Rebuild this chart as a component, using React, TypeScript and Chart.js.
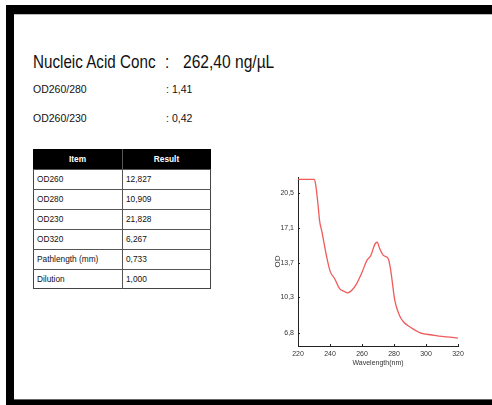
import React, { useEffect, useRef } from "react";
import { Chart, registerables } from "chart.js";

Chart.register(...registerables);

// ---- data ----
const wavelengths = [220, 225, 230, 231, 232.5, 233.5, 235, 237.5, 240, 243, 246, 249, 251, 253.5, 256.5, 260, 263, 265.5, 268, 269.5, 271, 273.5, 276.5, 278, 280.5, 283.5, 286, 290, 296, 305, 313, 320];
const odValues = [21.87, 21.87, 21.87, 21.4, 19.4, 17.8, 16.7, 14.6, 12.9, 12.1, 11.15, 10.87, 10.74, 10.97, 11.6, 12.75, 13.9, 14.4, 15.5, 15.7, 15.1, 14.4, 14.06, 12.9, 10.0, 8.5, 7.88, 7.4, 6.85, 6.58, 6.42, 6.31];
const xTickValues = [220, 240, 260, 280, 300, 320];
const yTickValues = [6.8, 10.3, 13.7, 17.1, 20.5];
const xAxisTitle = "Wavelength(nm)";
const yAxisTitle = "OD";

const concLabel = "Nucleic Acid Conc";
const concValue = "262,40 ng/µL";
const ratioLabels = ["OD260/280", "OD260/230"];
const ratioValues = ["1,41", "0,42"];

const tableHeaders = ["Item", "Result"];
const tableItems = ["OD260", "OD280", "OD230", "OD320", "Pathlength (mm)", "Dilution"];
const tableResults = ["12,827", "10,909", "21,828", "6,267", "0,733", "1,000"];

const FONT = "'Liberation Sans', Arial, sans-serif";

const innerTicks = {
  id: "innerTicks",
  afterDraw(chart: any) {
    const { ctx, chartArea, scales } = chart;
    ctx.save();
    ctx.strokeStyle = "#222";
    ctx.lineWidth = 1;
    scales.x.ticks.forEach((t: any) => {
      const px = Math.round(scales.x.getPixelForValue(t.value)) + 0.5;
      ctx.beginPath();
      ctx.moveTo(px, chartArea.bottom);
      ctx.lineTo(px, chartArea.bottom - 2);
      ctx.stroke();
    });
    scales.y.ticks.forEach((t: any) => {
      const py = Math.round(scales.y.getPixelForValue(t.value)) + 0.5;
      ctx.beginPath();
      ctx.moveTo(chartArea.left, py);
      ctx.lineTo(chartArea.left + 2, py);
      ctx.stroke();
    });
    ctx.restore();
  },
};

function SpectrumChart() {
  const ref = useRef<HTMLCanvasElement | null>(null);
  useEffect(() => {
    if (!ref.current) return;
    const chart = new Chart(ref.current, {
      type: "line",
      data: {
        datasets: [
          {
            data: wavelengths.map((w, i) => ({ x: w, y: odValues[i] })),
            borderColor: "rgba(238,82,82,0.95)",
            borderWidth: 1.3,
            pointRadius: 0,
            cubicInterpolationMode: "monotone",
            fill: false,
          },
        ],
      },
      options: {
        animation: false,
        responsive: false,
        maintainAspectRatio: false,
        layout: { padding: { left: 12, right: 22, top: 17, bottom: 0 } },
        plugins: { legend: { display: false }, tooltip: { enabled: false } },
        scales: {
          x: {
            type: "linear",
            min: 220,
            max: 320,
            afterBuildTicks: (s: any) => {
              s.ticks = xTickValues.map((v) => ({ value: v }));
            },
            afterFit: (s: any) => {
              s.height = 22;
            },
            grid: { display: false, drawTicks: false },
            border: { display: true, color: "#222", width: 1 },
            ticks: {
              padding: 4,
              color: "#333",
              font: { family: FONT, size: 7 },
              maxRotation: 0,
              callback: (v: any) => String(v),
            },
            title: {
              display: true,
              text: xAxisTitle,
              color: "#333",
              font: { family: FONT, size: 7 },
              padding: { top: 0, bottom: 1 },
            },
          },
          y: {
            type: "linear",
            min: 5.53,
            max: 22.1,
            afterBuildTicks: (s: any) => {
              s.ticks = yTickValues.map((v) => ({ value: v }));
            },
            afterFit: (s: any) => {
              s.width = 26;
            },
            grid: { display: false, drawTicks: false },
            border: { display: true, color: "#222", width: 1 },
            ticks: {
              padding: 4,
              color: "#333",
              font: { family: FONT, size: 7 },
              callback: (v: any) => Number(v).toFixed(1).replace(".", ","),
            },
            title: {
              display: true,
              text: yAxisTitle,
              color: "#333",
              font: { family: FONT, size: 8 },
              padding: { top: 1, bottom: 0 },
            },
          },
        },
      },
      plugins: [innerTicks],
    } as any);
    return () => chart.destroy();
  }, []);
  return (
    <canvas
      ref={ref}
      width={220}
      height={208}
      style={{ position: "absolute", left: 260, top: 160, width: 220, height: 208 }}
    />
  );
}

function Txt(props: { x: number; y: number; size: number; sx?: number; children: any; bold?: boolean; color?: string }) {
  return (
    <div
      style={{
        position: "absolute",
        left: props.x,
        top: props.y,
        fontFamily: FONT,
        fontSize: props.size,
        lineHeight: 1,
        whiteSpace: "nowrap",
        fontWeight: props.bold ? "bold" : "normal",
        color: props.color || "#111",
        transform: `scaleX(${props.sx ?? 1})`,
        transformOrigin: "left top",
      }}
    >
      {props.children}
    </div>
  );
}

export default function App() {
  const rowH = 20;
  const tLeft = 33;
  const tTop = 149;
  const tWidth = 178;
  const col1W = 89;
  const rows = [tableHeaders, ...tableItems.map((it, i) => [it, tableResults[i]])];
  return (
    <div style={{ position: "absolute", left: 0, top: 0, width: 492, height: 405, background: "#fff", overflow: "hidden" }}>
      {/* frame */}
      <div style={{ position: "absolute", left: 6, top: 5, width: 486, height: 9, background: "#000" }} />
      <div style={{ position: "absolute", left: 14, top: 14, width: 478, height: 1, background: "#bbb" }} />
      <div style={{ position: "absolute", left: 6, top: 5, width: 8, height: 400, background: "#000" }} />
      <div style={{ position: "absolute", left: 14, top: 400, width: 478, height: 5, background: "#000" }} />
      <div style={{ position: "absolute", left: 14, top: 399, width: 478, height: 1, background: "#666" }} />

      {/* header text */}
      <Txt x={33} y={52} size={19} sx={0.8}>{concLabel}</Txt>
      <Txt x={165} y={52} size={19} sx={0.8}>:</Txt>
      <Txt x={183} y={52} size={19} sx={0.82}>{concValue}</Txt>

      {ratioLabels.map((l, i) => (
        <React.Fragment key={l}>
          <Txt x={33} y={84 + i * 29} size={10.5}>{l}</Txt>
          <Txt x={166} y={84 + i * 29} size={10.5}>:</Txt>
          <Txt x={172} y={84 + i * 29} size={10.5}>{ratioValues[i]}</Txt>
        </React.Fragment>
      ))}

      {/* table */}
      <div
        style={{
          position: "absolute",
          left: tLeft,
          top: tTop,
          width: tWidth,
          height: rowH * rows.length,
          boxSizing: "border-box",
          border: "1px solid #444",
        }}
      />
      {rows.map((r, i) => (
        <React.Fragment key={i}>
          {i === 0 ? (
            <div style={{ position: "absolute", left: tLeft, top: tTop, width: tWidth, height: rowH, background: "#000" }} />
          ) : (
            <div style={{ position: "absolute", left: tLeft, top: tTop + i * rowH, width: tWidth, height: 1, background: "#555" }} />
          )}
          {r.map((c, j) => {
            const cellLeft = tLeft + (j === 0 ? 0 : col1W);
            const cellW = j === 0 ? col1W : tWidth - col1W;
            return (
              <div
                key={j}
                style={{
                  position: "absolute",
                  left: cellLeft + (i === 0 ? 0 : 4),
                  top: tTop + i * rowH,
                  width: i === 0 ? cellW : cellW - 4,
                  height: rowH,
                  lineHeight: rowH + "px",
                  fontFamily: FONT,
                  fontSize: 8.3,
                  fontWeight: i === 0 ? "bold" : "normal",
                  color: i === 0 ? "#fff" : "#111",
                  textAlign: i === 0 ? "center" : "left",
                  whiteSpace: "nowrap",
                }}
              >
                {c}
              </div>
            );
          })}
        </React.Fragment>
      ))}
      <div style={{ position: "absolute", left: tLeft + col1W, top: tTop, width: 1, height: rowH * rows.length, background: "#555" }} />

      <SpectrumChart />
    </div>
  );
}
